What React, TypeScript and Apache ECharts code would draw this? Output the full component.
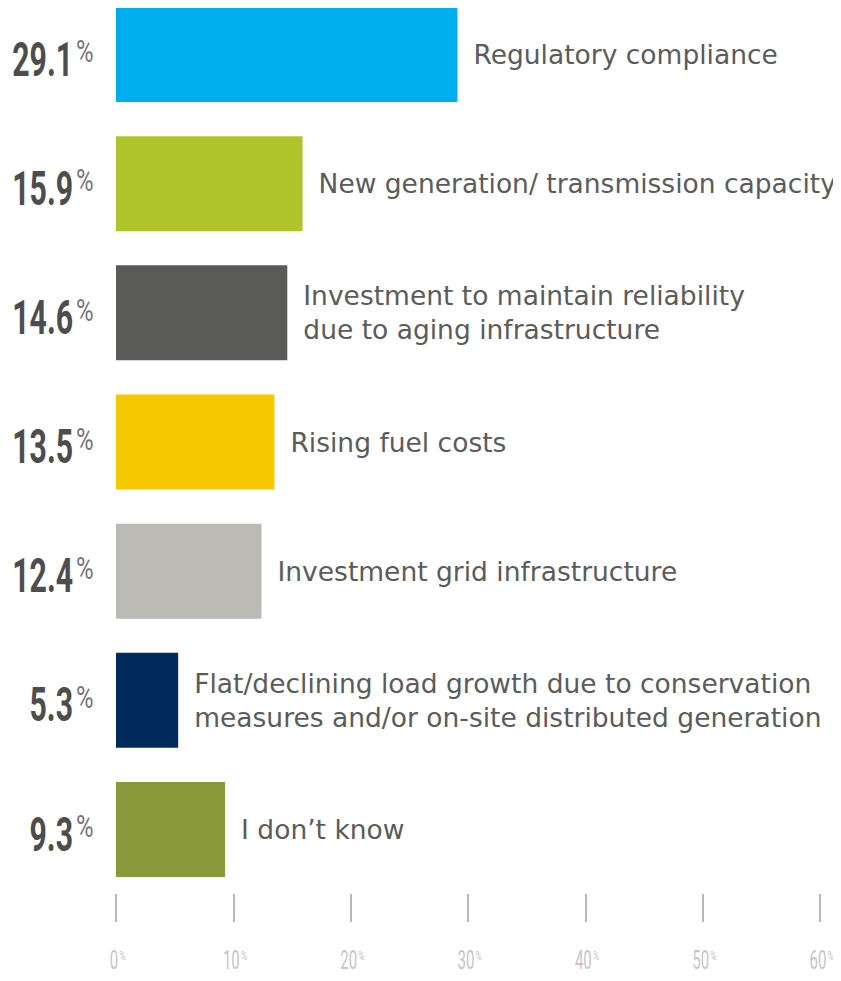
import React, { useEffect, useRef } from "react";
import * as echarts from "echarts";

const categories = [
  "Regulatory compliance",
  "New generation/ transmission capacity",
  "Investment to maintain reliability\ndue to aging infrastructure",
  "Rising fuel costs",
  "Investment grid infrastructure",
  "Flat/declining load growth due to conservation\nmeasures and/or on-site distributed generation",
  "I don’t know",
];
const values = [29.1, 15.9, 14.6, 13.5, 12.4, 5.3, 9.3];
const colors = ["#00AEEF", "#AFC42B", "#5A5B58", "#F5C800", "#BBBAB5", "#002B5C", "#8A9A3B"];
const tickValues = [0, 10, 20, 30, 40, 50, 60];

export default function App() {
  const ref = useRef<HTMLDivElement>(null);
  useEffect(() => {
    if (!ref.current) return;
    const chart = echarts.init(ref.current, null, { renderer: "svg" });
    const option: any = {
      animation: false,
      backgroundColor: "#ffffff",
      grid: { left: 108, width: 704, top: -18, height: 904, outerBoundsMode: "none", containLabel: false },
      xAxis: {
        type: "value",
        min: 0,
        max: 60,
        interval: 10,
        axisLine: { show: false },
        splitLine: { show: false },
        axisTick: { show: true, length: 28, lineStyle: { color: "#bdbab5", width: 2 } },
        axisLabel: { show: false },
      },
      yAxis: {
        type: "category",
        data: categories,
        inverse: true,
        axisLine: { show: false },
        axisTick: { show: false },
        axisLabel: { show: false },
      },
      series: [
        {
          type: "bar",
          barWidth: 95,
          data: values.map((v, i) => ({ value: v, itemStyle: { color: colors[i] } })),
          label: {
            show: true,
            position: "right",
            distance: 16,
            formatter: (p: any) => categories[p.dataIndex],
            fontFamily: "DejaVu Sans",
            fontSize: 26.5,
            lineHeight: 34,
            color: "#5b5b5b",
          },
        },
      ],
    };
    chart.setOption(option);
    const graphic: any[] = [];
    categories.forEach((c, i) => {
      const cy = chart.convertToPixel({ yAxisIndex: 0 }, c) as number;
      graphic.push({
        type: "text",
        x: 65,
        y: cy + 5,
        scaleX: 0.63,
        style: {
          text: values[i].toFixed(1),
          fontFamily: "Roboto",
          fontWeight: "bold",
          fontSize: 48,
          fill: "#4d4d4d",
          align: "right",
          verticalAlign: "middle",
          textAlign: "right",
          textVerticalAlign: "middle",
        },
      });
      graphic.push({
        type: "text",
        x: 68,
        y: cy - 3,
        scaleX: 0.75,
        style: {
          text: "%",
          fontFamily: "Roboto",
          fontWeight: "normal",
          fontSize: 32,
          fill: "#77727f",
          align: "left",
          verticalAlign: "middle",
          textAlign: "left",
          textVerticalAlign: "middle",
        },
      });
    });
    tickValues.forEach((v) => {
      const tx = chart.convertToPixel({ xAxisIndex: 0 }, v) as number;
      const s = String(v);
      const halfW = (s.length * 8.6) / 2;
      graphic.push({
        type: "text",
        x: tx - 2,
        y: 953,
        scaleX: 0.6,
        style: {
          text: s,
          fontFamily: "Roboto",
          fontSize: 25,
          fill: "#c9c3c9",
          align: "center",
          verticalAlign: "middle",
          textAlign: "center",
          textVerticalAlign: "middle",
        },
      });
      graphic.push({
        type: "text",
        x: tx - 2 + halfW + 1,
        y: 948,
        scaleX: 0.7,
        style: {
          text: "%",
          fontFamily: "Roboto",
          fontSize: 12,
          fill: "#c9c3c9",
          align: "left",
          verticalAlign: "middle",
          textAlign: "left",
          textVerticalAlign: "middle",
        },
      });
    });
    chart.setOption({ graphic });
    return () => chart.dispose();
  }, []);
  return <div ref={ref} style={{ width: 833, height: 973 }} />;
}
